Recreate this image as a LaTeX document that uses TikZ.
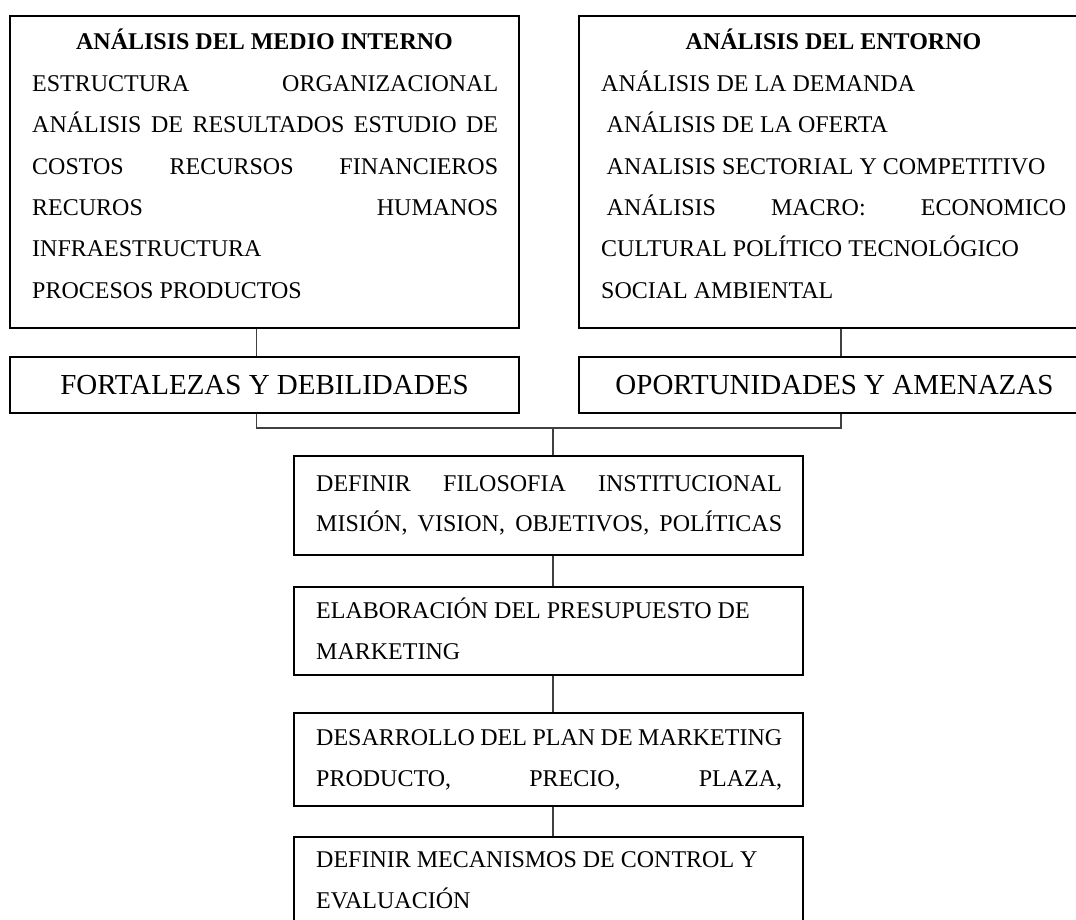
\documentclass[tikz,border=0pt]{standalone}
\usepackage{fontspec}
\setmainfont{Liberation Serif}
\newcommand{\jline}[2]{\makebox[#1][s]{#2}}
\begin{document}
\begin{tikzpicture}[x=1pt,y=-1pt,
  box/.style={draw=black,line width=2.6pt,rectangle,inner sep=0pt,minimum width=509pt},
  txt/.style={anchor=base west,inner sep=0pt,font=\fontsize{24}{28}\selectfont},
  ttl/.style={anchor=base,inner sep=0pt,font=\fontsize{24}{28}\selectfont\bfseries},
  big/.style={anchor=base,inner sep=0pt,font=\fontsize{29}{34}\selectfont},
  conn/.style={draw=black!75,line width=1.2pt}]
\useasboundingbox (0,0) rectangle (1076,920);
\clip (0,0) rectangle (1076,920);

% junction coordinates
\coordinate (jl) at (256.5,428);
\coordinate (jr) at (841,428);
\coordinate (jm) at (553,428);

% boxes
\node[box,minimum height=312pt] (int) at (264.5,172) {};
\node[box,minimum height=312pt] (ent) at (833.5,172) {};
\node[box,minimum height=56pt] (fd) at (264.5,385) {};
\node[box,minimum height=56pt] (oa) at (833.5,385) {};
\node[box,minimum height=99pt] (b1) at (548.5,505.5) {};
\node[box,minimum height=88pt] (b2) at (548.5,631) {};
\node[box,minimum height=93pt] (b3) at (548.5,759.5) {};
\node[box,minimum height=103pt] (b4) at (548.5,888.5) {};

% connectors
\draw[conn] (int.south -| jl) -- (fd.north -| jl);
\draw[conn] (ent.south -| jr) -- (oa.north -| jr);
\draw[conn] (fd.south -| jl) -- (jl) -- (jr) -- (oa.south -| jr);
\draw[conn] (jm) -- (b1.north -| jm);
\draw[conn] (b1.south -| jm) -- (b2.north -| jm);
\draw[conn] (b2.south -| jm) -- (b3.north -| jm);
\draw[conn] (b3.south -| jm) -- (b4.north -| jm);

% internal analysis
\node[ttl] (t1) at (264.5,50) {ANÁLISIS DEL MEDIO INTERNO};
\node[txt] (l1) at (32,91.5) {\jline{466pt}{ESTRUCTURA ORGANIZACIONAL}};
\node[txt] (l2) at (32,132.8) {\jline{466pt}{ANÁLISIS DE RESULTADOS ESTUDIO DE}};
\node[txt] (l3) at (32,174.1) {\jline{466pt}{COSTOS RECURSOS FINANCIEROS}};
\node[txt] (l4) at (32,215.4) {\jline{466pt}{RECUROS HUMANOS}};
\node[txt] (l5) at (32,256.7) {INFRAESTRUCTURA};
\node[txt] (l6) at (32,298) {PROCESOS PRODUCTOS};

% environment analysis
\node[ttl] (t2) at (833.5,50) {ANÁLISIS DEL ENTORNO};
\node[txt] (r1) at (601,91.5) {ANÁLISIS DE LA DEMANDA};
\node[txt] (r2) at (606.5,132.8) {ANÁLISIS DE LA OFERTA};
\node[txt] (r3) at (606.5,174.1) {ANALISIS SECTORIAL Y COMPETITIVO};
\node[txt] (r4) at (606.5,215.4) {\jline{459.5pt}{ANÁLISIS MACRO: ECONOMICO}};
\node[txt] (r5) at (601,256.7) {CULTURAL POLÍTICO TECNOLÓGICO};
\node[txt] (r6) at (601,298) {SOCIAL AMBIENTAL};

% FODA
\node[big] (fdt) at (264.5,394) {FORTALEZAS Y DEBILIDADES};
\node[big] (oat) at (834.5,394) {OPORTUNIDADES Y AMENAZAS};

% lower chain
\node[txt] (d1) at (316,491) {\jline{466pt}{DEFINIR FILOSOFIA INSTITUCIONAL}};
\node[txt] (d2) at (316,531) {\jline{466pt}{MISIÓN, VISION, OBJETIVOS, POLÍTICAS}};
\node[txt] (e1) at (316,618) {ELABORACIÓN DEL PRESUPUESTO DE};
\node[txt] (e2) at (316,659) {MARKETING};
\node[txt] (p1) at (316,745) {\jline{466pt}{DESARROLLO DEL PLAN DE MARKETING}};
\node[txt] (p2) at (316,786.5) {\jline{466pt}{PRODUCTO, PRECIO, PLAZA,}};
\node[txt] (m1) at (316,867) {DEFINIR MECANISMOS DE CONTROL Y};
\node[txt] (m2) at (316,908) {EVALUACIÓN};
\end{tikzpicture}
\end{document}
